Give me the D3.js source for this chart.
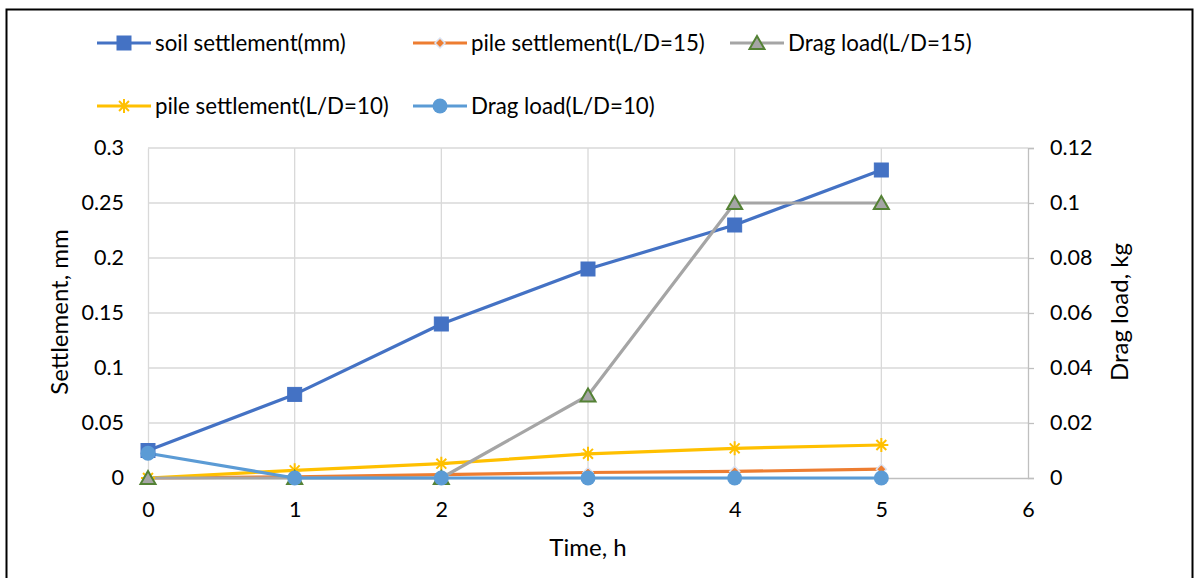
<!DOCTYPE html>
<html><head><meta charset="utf-8">
<script src="https://cdn.jsdelivr.net/npm/d3@7"></script>
<style>
html,body{margin:0;padding:0;background:#fff;}
svg text{font-family:Lato,"Open Sans",sans-serif;fill:#000;}
</style></head>
<body><svg id="c" width="1195" height="578"></svg>
<script>
const times = [0, 1, 2, 3, 4, 5];
const soilSettlement = [0.025, 0.076, 0.14, 0.19, 0.23, 0.28];
const pileSettlement15 = [0, 0.001, 0.003, 0.005, 0.006, 0.008];
const dragLoad15 = [0, 0, 0, 0.03, 0.1, 0.1];
const pileSettlement10 = [0, 0.007, 0.013, 0.022, 0.027, 0.03];
const dragLoad10 = [0.009, 0, 0, 0, 0, 0];
const xTicks = [0, 1, 2, 3, 4, 5, 6];
const leftTicks = [0, 0.05, 0.1, 0.15, 0.2, 0.25, 0.3];
const rightTicks = [0, 0.02, 0.04, 0.06, 0.08, 0.1, 0.12];

const svg = d3.select("#c");
const L = 148, R = 1028, T = 148, B = 478;
const x = d3.scaleLinear().domain([0, 6]).range([L, R]);
const yL = d3.scaleLinear().domain([0, 0.3]).range([B, T]);
const yR = d3.scaleLinear().domain([0, 0.12]).range([B, T]);

// border
svg.append("rect").attr("x", 6.5).attr("y", 9.5).attr("width", 1186).attr("height", 580)
  .attr("fill", "none").attr("stroke", "#000").attr("stroke-width", 2);

// gridlines
const grid = svg.append("g");
grid.selectAll(".h").data(leftTicks.slice(1)).join("line")
  .attr("x1", L).attr("x2", R).attr("y1", d => yL(d)).attr("y2", d => yL(d))
  .attr("stroke", "#d9d9d9").attr("stroke-width", 1.3);
grid.selectAll(".v").data(xTicks.slice(1, -1)).join("line")
  .attr("x1", d => x(d)).attr("x2", d => x(d)).attr("y1", T).attr("y2", B)
  .attr("stroke", "#d9d9d9").attr("stroke-width", 1.3);

// axes
const fmt = d => String(d);
const ax = svg.append("g").attr("transform", `translate(0,${B})`)
  .call(d3.axisBottom(x).tickValues(xTicks).tickFormat(fmt).tickSize(0).tickPadding(24));
const axL = svg.append("g").attr("transform", `translate(${L},0)`)
  .call(d3.axisLeft(yL).tickValues(leftTicks).tickFormat(fmt).tickSize(0).tickPadding(24));
const axR = svg.append("g").attr("transform", `translate(${R},0)`)
  .call(d3.axisRight(yR).tickValues(rightTicks).tickFormat(fmt).tickSize(6).tickPadding(16));
[ax, axL, axR].forEach(g => {
  g.select(".domain").attr("stroke", "#bfbfbf").attr("stroke-width", 1.3);
  g.selectAll(".tick line").attr("stroke", "#bfbfbf").attr("stroke-width", 1.3);
  g.selectAll("text").style("font-size", "21.5px").attr("fill", "#000");
});
ax.selectAll("text").attr("dy", "0.72em");
axL.select(".domain").attr("stroke", "#d9d9d9");

// axis titles
svg.append("text").attr("x", 588).attr("y", 556).attr("text-anchor", "middle")
  .style("font-size", "24px").text("Time, h");
svg.append("text").attr("transform", "translate(68,312) rotate(-90)").attr("text-anchor", "middle")
  .style("font-size", "24px").text("Settlement, mm");
svg.append("text").attr("transform", "translate(1128,312) rotate(-90)").attr("text-anchor", "middle")
  .style("font-size", "24px").text("Drag load, kg");

const series = [
  {name: "soil settlement(mm)", vals: soilSettlement, y: yL, color: "#4472C4", marker: "square"},
  {name: "pile settlement(L/D=15)", vals: pileSettlement15, y: yL, color: "#ED7D31", marker: "diamond"},
  {name: "pile settlement(L/D=10)", vals: pileSettlement10, y: yL, color: "#FFC000", marker: "star"},
  {name: "Drag load(L/D=15)", vals: dragLoad15, y: yR, color: "#A5A5A5", marker: "triangle"},
  {name: "Drag load(L/D=10)", vals: dragLoad10, y: yR, color: "#5B9BD5", marker: "circle"}
];

function drawMarker(g, s, cx, cy) {
  if (s.marker === "square") {
    g.append("rect").attr("x", cx - 7).attr("y", cy - 7).attr("width", 14).attr("height", 14)
      .attr("fill", s.color).attr("stroke", "#4472C4").attr("stroke-width", 1);
  } else if (s.marker === "diamond") {
    g.append("path").attr("d", `M${cx},${cy-5}L${cx+5},${cy}L${cx},${cy+5}L${cx-5},${cy}Z`)
      .attr("fill", s.color).attr("stroke", "#dae3f3").attr("stroke-width", 1.5);
  } else if (s.marker === "star") {
    const r = 7;
    const p = [];
    [0, 90, 45, 135].forEach(a => {
      const t = a * Math.PI / 180;
      p.push(`M${cx - r*Math.cos(t)},${cy - r*Math.sin(t)}L${cx + r*Math.cos(t)},${cy + r*Math.sin(t)}`);
    });
    g.append("path").attr("d", p.join("")).attr("stroke", s.color).attr("stroke-width", 2).attr("fill", "none");
  } else if (s.marker === "triangle") {
    g.append("path").attr("d", `M${cx},${cy-7}L${cx+7.5},${cy+6}L${cx-7.5},${cy+6}Z`)
      .attr("fill", "#A5A5A5").attr("stroke", "#548235").attr("stroke-width", 2);
  } else if (s.marker === "circle") {
    g.append("circle").attr("cx", cx).attr("cy", cy).attr("r", 7.5).attr("fill", s.color);
  }
}

const plot = svg.append("g");
series.forEach(s => {
  const line = d3.line().x((d, i) => x(times[i])).y(d => s.y(d));
  plot.append("path").datum(s.vals).attr("d", line).attr("fill", "none")
    .attr("stroke", s.color).attr("stroke-width", 3.2).attr("stroke-linejoin", "round");
});
series.forEach(s => {
  const g = plot.append("g");
  s.vals.forEach((v, i) => drawMarker(g, s, x(times[i]), s.y(v)));
});

// legend
const legendPos = [
  {s: 0, x: 97, y: 43}, {s: 1, x: 413, y: 43}, {s: 3, x: 730, y: 43},
  {s: 2, x: 97, y: 106}, {s: 4, x: 413, y: 106}
];
legendPos.forEach(p => {
  const s = series[p.s];
  const g = svg.append("g");
  g.append("line").attr("x1", p.x).attr("x2", p.x + 54).attr("y1", p.y).attr("y2", p.y)
    .attr("stroke", s.color).attr("stroke-width", 3.2);
  drawMarker(g, s, p.x + 27, p.y);
  g.append("text").attr("x", p.x + 58).attr("y", p.y + 8).style("font-size", "22.3px").text(s.name);
});
</script></body></html>
